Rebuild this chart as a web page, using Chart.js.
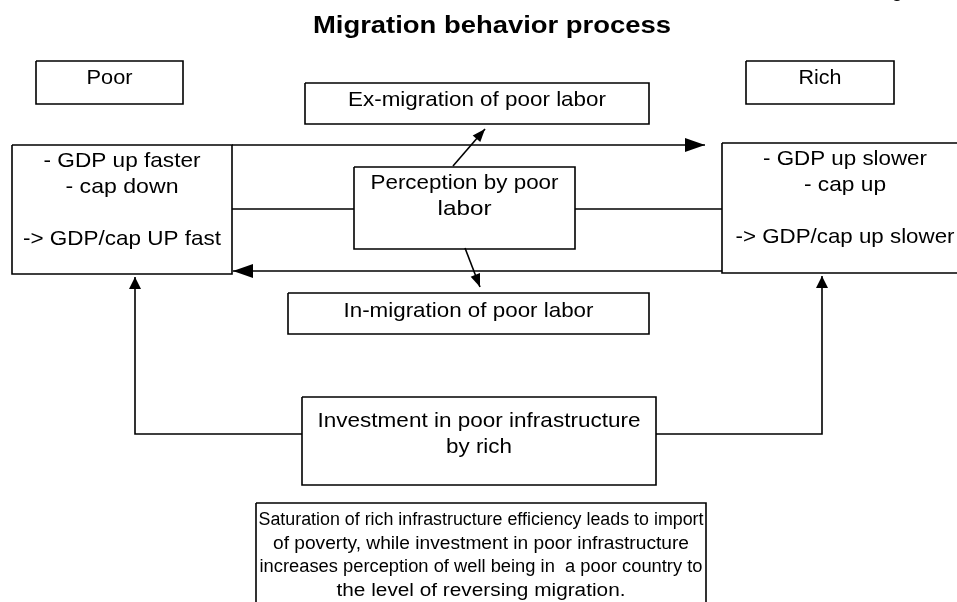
<!DOCTYPE html>
<html lang="en">
<head>
    <meta charset="UTF-8">
    <title>Migration behavior process</title>
    <script src="https://cdn.jsdelivr.net/npm/chart.js"></script>
    <style>
        html, body { margin: 0; padding: 0; background: #fff; }
    </style>
</head>
<body>
    <canvas id="diagram" width="957" height="602"></canvas>

    <script>
        // ---- diagram content ----
        const chartTitle = 'Migration behavior process';

        // text of each box, one entry per line ('' = empty line)
        const boxTexts = [
            ['Poor'],
            ['Rich'],
            ['Ex-migration of poor labor'],
            ['- GDP up faster', '- cap down', '', '-> GDP/cap UP fast'],
            ['- GDP up slower', '- cap up', '', '-> GDP/cap up slower'],
            ['Perception by poor', 'labor'],
            ['In-migration of poor labor'],
            ['Investment in poor infrastructure', 'by rich'],
            ['Saturation of rich infrastructure efficiency leads to import',
             'of poverty, while investment in poor infrastructure',
             'increases perception of well being in  a poor country to',
             'the level of reversing migration.']
        ];

        // ---- layout, in diagram units (x 0..957, y 0..602 top down) ----
        const boxRects = [
            [36, 61, 183, 104],
            [746, 61, 894, 104],
            [305, 83, 649, 124],
            [12, 145, 232, 274],
            [722, 143, 968, 273],
            [354, 167, 575, 249],
            [288, 293, 649, 334],
            [302, 397, 656, 485],
            [256, 503, 706, 640]
        ];
        const firstBaseline = [84, 84, 106, 167, 165, 189, 317, 427, 525];
        const lineStep = [0, 0, 0, 26, 26, 26, 0, 26, 23.5];
        const fontSize = [21, 21, 21, 21, 21, 21, 21, 21, 18];
        const lineWidths = [
            [46], [43], [258],
            [157, 113, 0, 198],
            [164, 82, 0, 219],
            [188, 54], [250], [323, 66],
            [445, 416, 443, 289]
        ];

        // connectors: polylines, arrow = [length, half width] of the head at the end
        const links = [
            { pts: [[232, 145], [705, 145]], arrow: [20, 7] },
            { pts: [[722, 271], [233, 271]], arrow: [20, 7] },
            { pts: [[232, 209], [354, 209]], arrow: null },
            { pts: [[575, 209], [722, 209]], arrow: null },
            { pts: [[453, 166], [485, 129]], arrow: [13, 5] },
            { pts: [[465, 248], [480, 287]], arrow: [13, 5] },
            { pts: [[302, 434], [135, 434], [135, 277]], arrow: [12, 6] },
            { pts: [[656, 434], [822, 434], [822, 276]], arrow: [12, 6] }
        ];

        const FONT = '"Liberation Sans", Arial, sans-serif';

        const datasets = [];
        boxRects.forEach(r => {
            datasets.push({
                data: [
                    { x: r[0], y: r[1] }, { x: r[2], y: r[1] },
                    { x: r[2], y: r[3] }, { x: r[0], y: r[3] },
                    { x: r[0], y: r[1] }
                ],
                showLine: true, pointRadius: 0, borderColor: '#000',
                borderWidth: 1.6, fill: false, borderJoinStyle: 'miter'
            });
        });
        links.forEach(l => {
            datasets.push({
                data: l.pts.map(p => ({ x: p[0], y: p[1] })),
                showLine: true, pointRadius: 0, borderColor: '#000',
                borderWidth: 1.6, fill: false, borderJoinStyle: 'miter'
            });
        });

        // draws arrowheads and all the text on top of the lines
        const diagramPlugin = {
            id: 'diagramText',
            afterDatasetsDraw(chart) {
                const { ctx, scales } = chart;
                const px = v => scales.x.getPixelForValue(v);
                const py = v => scales.y.getPixelForValue(v);

                ctx.save();
                ctx.fillStyle = '#000';

                links.forEach(l => {
                    if (!l.arrow) return;
                    const a = l.pts[l.pts.length - 2], b = l.pts[l.pts.length - 1];
                    const x1 = px(a[0]), y1 = py(a[1]), x2 = px(b[0]), y2 = py(b[1]);
                    const ang = Math.atan2(y2 - y1, x2 - x1);
                    const len = l.arrow[0], half = l.arrow[1];
                    ctx.save();
                    ctx.translate(x2, y2);
                    ctx.rotate(ang);
                    ctx.beginPath();
                    ctx.moveTo(0, 0);
                    ctx.lineTo(-len, -half);
                    ctx.lineTo(-len, half);
                    ctx.closePath();
                    ctx.fill();
                    ctx.restore();
                });

                function fitText(txt, cx, base, size, bold, width) {
                    ctx.save();
                    ctx.font = (bold ? 'bold ' : '') + size + 'px ' + FONT;
                    ctx.textAlign = 'center';
                    ctx.textBaseline = 'alphabetic';
                    const w = ctx.measureText(txt).width;
                    ctx.translate(cx, base);
                    if (width) ctx.scale(width / w, 1);
                    ctx.fillText(txt, 0, 0);
                    ctx.restore();
                }

                fitText(chartTitle, px(492), py(33), 23, true, 358);
                // cut-off glyph at the top right edge of the original page
                fitText('g', px(897), py(-3), 20, false, 0);

                boxTexts.forEach((lines, i) => {
                    const r = boxRects[i];
                    const cx = px((r[0] + r[2]) / 2);
                    lines.forEach((t, j) => {
                        if (!t) return;
                        fitText(t, cx, py(firstBaseline[i] + j * lineStep[i]),
                                fontSize[i], false, lineWidths[i][j]);
                    });
                });
                ctx.restore();
            }
        };

        new Chart(document.getElementById('diagram'), {
            type: 'scatter',
            data: { datasets: datasets },
            options: {
                responsive: false,
                animation: false,
                devicePixelRatio: 1,
                layout: { padding: 0 },
                plugins: {
                    legend: { display: false },
                    tooltip: { enabled: false },
                    title: { display: false }
                },
                scales: {
                    x: { type: 'linear', min: 0, max: 957, display: false },
                    y: { type: 'linear', min: 0, max: 602, reverse: true, display: false }
                }
            },
            plugins: [diagramPlugin]
        });
    </script>
</body>
</html>
